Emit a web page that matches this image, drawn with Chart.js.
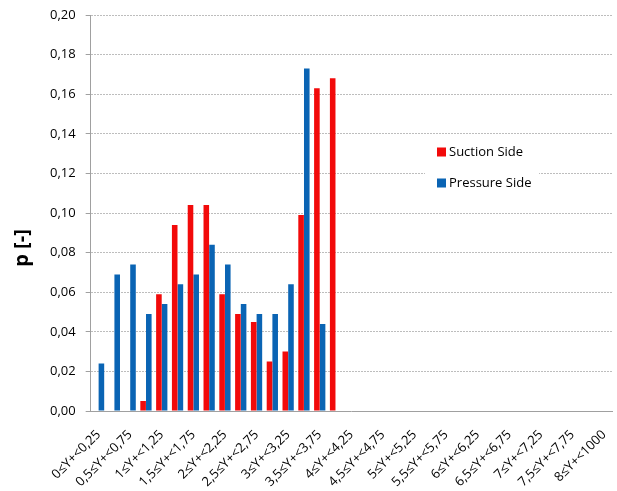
<!DOCTYPE html>
<html>
<head>
<meta charset="utf-8">
<script src="https://cdn.jsdelivr.net/npm/chart.js@4"></script>
<style>
  html, body { margin: 0; padding: 0; background: #fff; }
  #wrap { width: 617px; height: 491px; position: relative; }
</style>
</head>
<body>
<div id="wrap"><canvas id="chart"></canvas></div>
<script>
const categories = [
  "0≤Y+<0,25", "0,25≤Y+<0,5", "0,5≤Y+<0,75", "0,75≤Y+<1",
  "1≤Y+<1,25", "1,25≤Y+<1,5", "1,5≤Y+<1,75", "1,75≤Y+<2",
  "2≤Y+<2,25", "2,25≤Y+<2,5", "2,5≤Y+<2,75", "2,75≤Y+<3",
  "3≤Y+<3,25", "3,25≤Y+<3,5", "3,5≤Y+<3,75", "3,75≤Y+<4",
  "4≤Y+<4,25", "4,25≤Y+<4,5", "4,5≤Y+<4,75", "4,75≤Y+<5",
  "5≤Y+<5,25", "5,25≤Y+<5,5", "5,5≤Y+<5,75", "5,75≤Y+<6",
  "6≤Y+<6,25", "6,25≤Y+<6,5", "6,5≤Y+<6,75", "6,75≤Y+<7",
  "7≤Y+<7,25", "7,25≤Y+<7,5", "7,5≤Y+<7,75", "7,75≤Y+<8",
  "8≤Y+<1000"
];

const suctionSide = [
  0, 0, 0, 0.005, 0.059, 0.094, 0.104, 0.104,
  0.059, 0.049, 0.045, 0.025, 0.030, 0.099, 0.163, 0.168,
  0, 0, 0, 0, 0, 0, 0, 0, 0, 0, 0, 0, 0, 0, 0, 0, 0
];

const pressureSide = [
  0.024, 0.069, 0.074, 0.049, 0.054, 0.064, 0.069, 0.084,
  0.074, 0.054, 0.049, 0.049, 0.064, 0.173, 0.044, 0,
  0, 0, 0, 0, 0, 0, 0, 0, 0, 0, 0, 0, 0, 0, 0, 0, 0
];

const yTicks = [0, 0.02, 0.04, 0.06, 0.08, 0.10, 0.12, 0.14, 0.16, 0.18, 0.20];

const RED = "#f20a0a";
const BLUE = "#0a64b4";
const FONT = "'Open Sans', 'Liberation Sans', sans-serif";

// legend floating inside the plot, on a white box like the original
const floatLegend = {
  id: "floatLegend",
  afterDraw(chart, args, opts) {
    const ctx = chart.ctx;
    ctx.save();
    ctx.fillStyle = "#fff";
    ctx.fillRect(opts.x, opts.y, opts.w, opts.h);
    ctx.font = "13px " + FONT;
    ctx.textBaseline = "middle";
    chart.data.datasets.forEach((ds, i) => {
      const cy = opts.y + 15 + i * opts.gap;
      ctx.fillStyle = ds.backgroundColor;
      ctx.fillRect(opts.x + 12, cy - 4.5, 9, 9);
      ctx.fillStyle = "#000";
      ctx.fillText(ds.label, opts.x + 24, cy);
    });
    ctx.restore();
  },
};

// y axis title, sits a bit below the middle as in the original
const yTitle = {
  id: "yTitle",
  afterDraw(chart) {
    const ctx = chart.ctx;
    const a = chart.chartArea;
    ctx.save();
    ctx.translate(22, (a.top + a.bottom) / 2 + 35);
    ctx.rotate(-Math.PI / 2);
    ctx.font = "bold 20px " + FONT;
    ctx.fillStyle = "#000";
    ctx.textAlign = "center";
    ctx.textBaseline = "middle";
    ctx.fillText("p [-]", 0, 0);
    ctx.restore();
  },
};

new Chart(document.getElementById("chart"), {
  type: "bar",
  data: {
    labels: categories,
    datasets: [
      { label: "Suction Side", data: suctionSide, backgroundColor: RED },
      { label: "Pressure Side", data: pressureSide, backgroundColor: BLUE },
    ],
  },
  options: {
    responsive: true,
    maintainAspectRatio: false,
    animation: false,
    datasets: { bar: { categoryPercentage: 0.72, barPercentage: 0.98 } },
    layout: { padding: { left: 40, right: 5, top: 15, bottom: 0 } },
    plugins: {
      legend: { display: false },
      tooltip: { enabled: false },
      floatLegend: { x: 425, y: 137, w: 114, h: 58, gap: 31 },
    },
    scales: {
      x: {
        grid: { display: false, drawTicks: false },
        border: { color: "#a0a0a0" },
        afterFit: (axis) => {
          axis.height = 80;
          axis.paddingRight = 0;
        },
        ticks: {
          autoSkip: false,
          minRotation: 45,
          maxRotation: 45,
          padding: 16,
          color: "#000",
          font: { family: FONT, size: 13 },
          callback: (v, i) => (i % 2 === 0 ? categories[i] : ""),
        },
      },
      y: {
        min: 0,
        max: 0.2,
        afterBuildTicks: (axis) => {
          axis.ticks = yTicks.map((v) => ({ value: v }));
        },
        afterFit: (axis) => {
          axis.paddingTop = 0;
        },
        grid: { color: "#bdbdbd", tickLength: 5, tickColor: "#a0a0a0" },
        border: { color: "#a0a0a0", dash: [2, 1] },
        ticks: {
          padding: 10,
          color: "#000",
          font: { family: FONT, size: 13 },
          callback: (v) => v.toFixed(2).replace(".", ","),
        },
      },
    },
  },
  plugins: [floatLegend, yTitle],
});
</script>
</body>
</html>
